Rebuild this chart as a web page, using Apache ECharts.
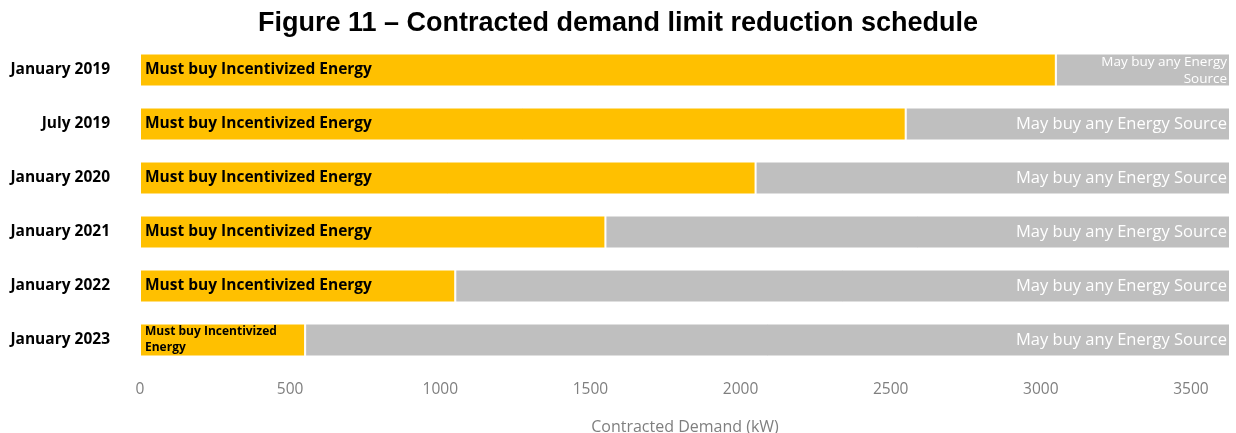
<!DOCTYPE html>
<html>
<head>
<meta charset="utf-8">
<script src="https://cdn.jsdelivr.net/npm/echarts@6/dist/echarts.min.js"></script>
<style>
  html, body { margin: 0; padding: 0; background: #fff; }
  #chart { width: 1236px; height: 433px; }
</style>
</head>
<body>
<div id="chart"></div>
<script>
// Schedule milestones, top to bottom
const categories = ['January 2019', 'July 2019', 'January 2020', 'January 2021', 'January 2022', 'January 2023'];
// Portion of contracted demand that must come from incentivized energy (kW)
const incentivized = [3050, 2550, 2050, 1550, 1050, 550];
// Remaining portion open to any energy source (kW)
const anySource = [580, 1080, 1580, 2080, 2580, 3080];
// Bar captions
const mustLabels = ['Must buy Incentivized Energy', 'Must buy Incentivized Energy', 'Must buy Incentivized Energy',
  'Must buy Incentivized Energy', 'Must buy Incentivized Energy', 'Must buy Incentivized\nEnergy'];
const mayLabels = ['May buy any Energy\nSource', 'May buy any Energy Source', 'May buy any Energy Source',
  'May buy any Energy Source', 'May buy any Energy Source', 'May buy any Energy Source'];
const xTicks = [0, 500, 1000, 1500, 2000, 2500, 3000, 3500];

const FONT = 'Open Sans';

const yellowData = incentivized.map((v, i) => {
  const twoLine = mustLabels[i].indexOf('\n') >= 0;
  return {
    value: v,
    label: { formatter: mustLabels[i], fontSize: twoLine ? 12 : 15.5, lineHeight: twoLine ? 16 : 18 }
  };
});
const greyData = anySource.map((v, i) => {
  const twoLine = mayLabels[i].indexOf('\n') >= 0;
  return {
    value: v,
    label: {
      formatter: mayLabels[i],
      fontSize: twoLine ? 13.5 : 16.5,
      lineHeight: twoLine ? 17 : 18,
      offset: twoLine ? [0, 1] : [0, 0]
    }
  };
});

const chart = echarts.init(document.getElementById('chart'));
chart.setOption({
  animation: false,
  textStyle: { fontFamily: FONT },
  title: {
    text: 'Figure 11 \u2013 Contracted demand limit reduction schedule',
    left: 'center',
    top: 5,
    textStyle: { fontFamily: 'Liberation Sans', fontWeight: 'bold', fontSize: 27, color: '#000' }
  },
  grid: { left: 140, right: 6, top: 43, height: 324, outerBoundsMode: 'none' },
  xAxis: {
    type: 'value',
    min: 0,
    max: 3630,
    interval: 500,
    name: 'Contracted Demand (kW)',
    nameLocation: 'middle',
    nameGap: 52,
    nameTextStyle: { color: '#7f7f7f', fontSize: 16, fontFamily: FONT },
    axisLine: { show: false },
    axisTick: { show: false },
    splitLine: { show: false },
    axisLabel: {
      color: '#7f7f7f',
      fontSize: 15.5,
      margin: 15,
      showMaxLabel: false,
      formatter: v => (xTicks.indexOf(v) >= 0 ? String(v) : '')
    }
  },
  yAxis: {
    type: 'category',
    data: categories,
    inverse: true,
    axisLine: { show: false },
    axisTick: { show: false },
    axisLabel: { color: '#000', fontWeight: 'bold', fontSize: 15.5, margin: 30 }
  },
  series: [
    {
      name: 'Must buy Incentivized Energy',
      type: 'bar',
      stack: 'demand',
      barWidth: 33,
      data: yellowData,
      itemStyle: { color: '#FFC000', borderColor: '#fff', borderWidth: 1 },
      label: {
        show: true,
        position: 'insideLeft',
        distance: 5,
        color: '#000',
        fontWeight: 'bold',
        fontFamily: FONT
      }
    },
    {
      name: 'May buy any Energy Source',
      type: 'bar',
      stack: 'demand',
      barWidth: 33,
      data: greyData,
      itemStyle: { color: '#BFBFBF', borderColor: '#fff', borderWidth: 1 },
      label: {
        show: true,
        position: 'insideRight',
        distance: 3,
        color: '#fff',
        align: 'right',
        fontFamily: FONT
      }
    }
  ]
});
</script>
</body>
</html>
